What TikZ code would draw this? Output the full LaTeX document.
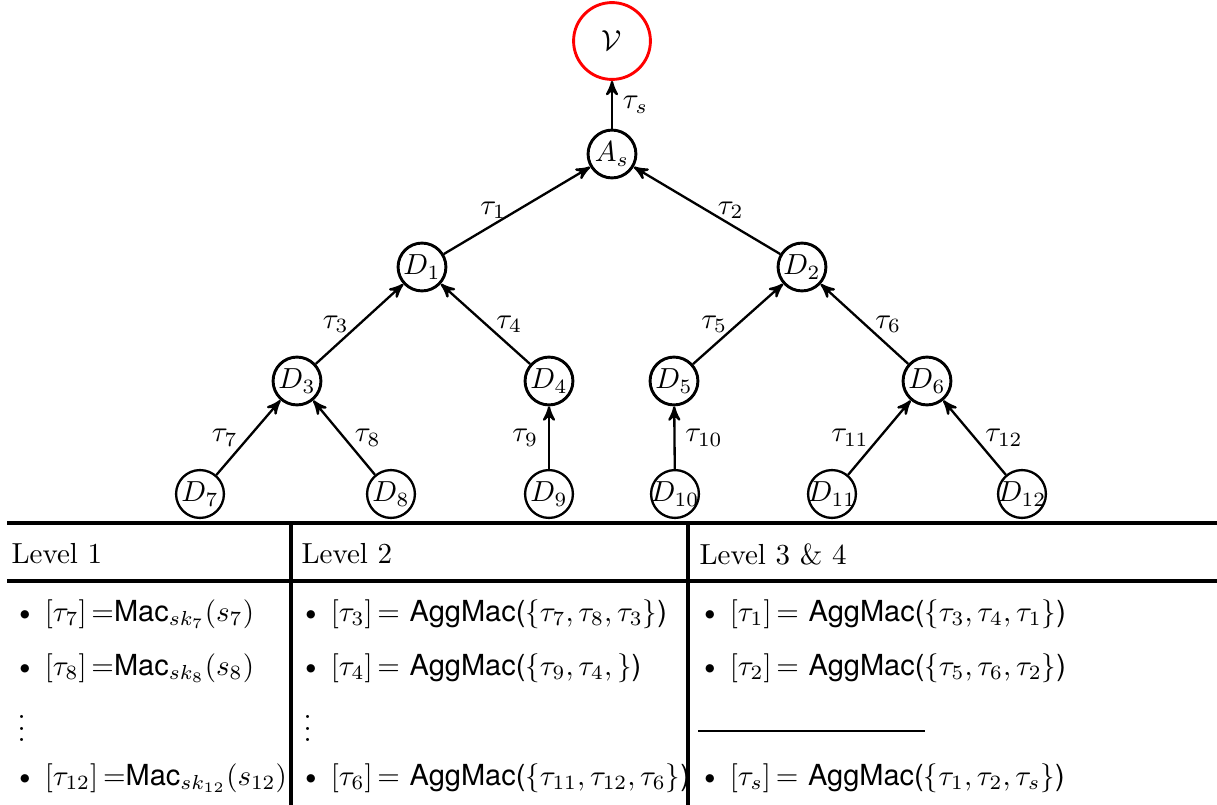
\documentclass[tikz,border=0pt]{standalone}
\usepackage{fontspec}
\setsansfont{TeX Gyre Heros}
\usepackage{tikz}
\usetikzlibrary{arrows}
\usepackage{amssymb}

\begin{document}
\begin{tikzpicture}[x=0.3448pt,y=-0.3448pt,>=stealth',
    dnode/.style={circle,draw,line width=1pt,minimum size=16.5pt,inner sep=-2pt},
    leaf/.style={dnode,line width=0.8pt},
    verifier/.style={dnode,draw=red,minimum size=26.5pt},
    edge/.style={->,thick},
    cell/.style={anchor=west,inner sep=0pt},
    rule/.style={line width=1.5pt}]
        \useasboundingbox (0,0) rectangle (1217,805);
        % Arbre
        \node [verifier] (v) at (612,41) {$\mathcal{V}$};
        \node [dnode] (as) at (612,154) {$A_s$};
        \node [dnode] (d1) at (422,267) {$D_1$};
        \node [dnode] (d2) at (802,267) {$D_2$};
        \node [dnode] (d3) at (297,381) {$D_3$};
        \node [dnode] (d4) at (549,381) {$D_4$};
        \node [dnode] (d5) at (674,381) {$D_5$};
        \node [dnode] (d6) at (927,381) {$D_6$};
        \node [leaf] (d7) at (200,494) {$D_7$};
        \node [leaf] (d8) at (391,494) {$D_8$};
        \node [leaf] (d9) at (549,494) {$D_9$};
        \node [leaf] (d10) at (675,494) {$D_{10}$};
        \node [leaf] (d11) at (832,494) {$D_{11}$};
        \node [leaf] (d12) at (1022,494) {$D_{12}$};
        \draw [edge] (as) -- (v) node [midway,right] {$\tau_s$};
        \draw [edge] (d1) -- (as) node [midway,left] {$\tau_1$};
        \draw [edge] (d2) -- (as) node [midway,right] {$\tau_2$};
        \draw [edge] (d3) -- (d1) node [midway,left] {$\tau_3$};
        \draw [edge] (d4) -- (d1) node [midway,right] {$\tau_4$};
        \draw [edge] (d5) -- (d2) node [midway,left] {$\tau_5$};
        \draw [edge] (d6) -- (d2) node [midway,right] {$\tau_6$};
        \draw [edge] (d7) -- (d3) node [midway,left] {$\tau_7$};
        \draw [edge] (d8) -- (d3) node [midway,right] {$\tau_8$};
        \draw [edge] (d9) -- (d4) node [midway,left] {$\tau_9$};
        \draw [edge] (d10) -- (d5) node [midway,right] {$\tau_{10}$};
        \draw [edge] (d11) -- (d6) node [midway,left] {$\tau_{11}$};
        \draw [edge] (d12) -- (d6) node [midway,right] {$\tau_{12}$};
        % Tableau
        \draw [rule] (7,523) -- (1217,523);
        \draw [rule] (7,581) -- (1217,581);
        \draw [line width=1.5pt] (291,523) -- (291,805);
        \draw [line width=1.5pt] (688,523) -- (688,805);
        \node [cell] (h1) at (11,554) {Level 1};
        \node [cell] (h2) at (301,554) {Level 2};
        \node [cell] (h3) at (699,554) {Level 3 \& 4};
        \node [cell] (a1) at (13,614) {\textbullet\hspace{3pt}$[\tau_7]$\,=\textsf{Mac}$_{sk_7}(s_7)$};
        \node [cell] (a2) at (13,668) {\textbullet\hspace{3pt}$[\tau_8]$\,=\textsf{Mac}$_{sk_8}(s_8)$};
        \node [cell] (a3) at (17,720) {$\vdots$};
        \node [cell] (a4) at (13,778) {\textbullet\hspace{3pt}$[\tau_{12}]$\,=\textsf{Mac}$_{sk_{12}}(s_{12})$};
        \node [cell] (b1) at (299,614) {\textbullet\hspace{3pt}$[\tau_3]$\,= \textsf{AggMac(}$\{\tau_7,\tau_8,\tau_3\}$\textsf{)}};
        \node [cell] (b2) at (299,668) {\textbullet\hspace{3pt}$[\tau_4]$\,= \textsf{AggMac(}$\{\tau_9,\tau_4,\}$\textsf{)}};
        \node [cell] (b3) at (303,720) {$\vdots$};
        \node [cell] (b4) at (299,778) {\textbullet\hspace{3pt}$[\tau_6]$\,= \textsf{AggMac(}$\{\tau_{11},\tau_{12},\tau_6\}$\textsf{)}};
        \node [cell] (c1) at (698,614) {\textbullet\hspace{3pt}$[\tau_1]$\,= \textsf{AggMac(}$\{\tau_3,\tau_4,\tau_1\}$\textsf{)}};
        \node [cell] (c2) at (698,668) {\textbullet\hspace{3pt}$[\tau_2]$\,= \textsf{AggMac(}$\{\tau_5,\tau_6,\tau_2\}$\textsf{)}};
        \draw [line width=1pt] (698,731) -- (925,731);
        \node [cell] (c4) at (698,778) {\textbullet\hspace{3pt}$[\tau_s]$\,= \textsf{AggMac(}$\{\tau_1,\tau_2,\tau_s\}$\textsf{)}};
\end{tikzpicture}
\end{document}
